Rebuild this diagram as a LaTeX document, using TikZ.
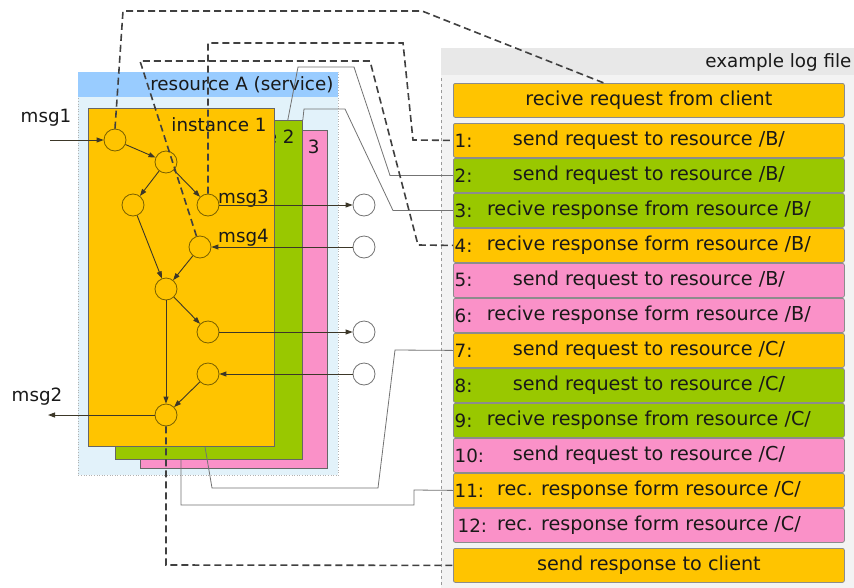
\documentclass[tikz,border=0pt]{standalone}
\usepackage{fontspec}
\setmainfont{DejaVu Sans}
\usetikzlibrary{arrows.meta,calc}
\definecolor{cOr}{RGB}{255,196,0}
\definecolor{cGr}{RGB}{153,200,0}
\definecolor{cPk}{RGB}{250,145,200}
\definecolor{cHead}{RGB}{153,204,255}
\definecolor{cBody}{RGB}{226,242,250}
\definecolor{cLog}{RGB}{243,243,243}
\definecolor{cLogHead}{RGB}{232,232,232}
\definecolor{cEdge}{RGB}{60,55,40}
\definecolor{cRing}{RGB}{120,95,0}
\definecolor{cTxt}{RGB}{25,25,25}
\tikzset{
  logrow/.style={draw=black!45, line width=0.8pt, rounded corners=2pt,
    minimum width=391pt, minimum height=34pt, anchor=north west, inner sep=0pt,
    font=\fontsize{19.2}{21}\selectfont},
  numlabel/.style={anchor=west, inner sep=0pt},
  instbox/.style={draw=black!60, line width=0.8pt, anchor=north west, inner sep=0pt},
  state/.style={circle, draw=cRing, fill=cOr, line width=0.8pt, minimum size=22pt, inner sep=0pt},
  outstate/.style={circle, draw=black!55, fill=white, line width=0.8pt, minimum size=22pt, inner sep=0pt},
  edge/.style={draw=cEdge, line width=0.9pt, -{Triangle[length=7pt,width=5pt]}},
  trace/.style={draw=black!55, line width=0.8pt},
  dashtrace/.style={draw=black!75, line width=1.6pt, dash pattern=on 7pt off 4pt},
}
\begin{document}
\begin{tikzpicture}[x=1pt, y=-1pt, font=\fontsize{18.3}{20}\selectfont, text=cTxt]
\clip (0,0) rectangle (854,587);
\fill[white] (0,0) rectangle (854,587);

% log file panel
\node[draw=black!40, dashed, line width=0.6pt, fill=cLog, minimum width=440pt, minimum height=560pt,
  anchor=north west, inner sep=0pt] (logp) at (441,48) {};
\fill[cLogHead] ([shift={(0.4pt,-0.4pt)}]logp.north west) rectangle (870,75);
\node[anchor=east] (logtitle) at (855,62) {example log file};

% resource A container
\node[draw=black!30, dotted, line width=0.6pt, fill=cBody, minimum width=260pt, minimum height=403pt,
  anchor=north west, inner sep=0pt] (resA) at (78,72) {};
\fill[cHead] (78.3,72.3) rectangle (337.7,97);
\node[anchor=east] (resAtitle) at (337,85) {resource A (service)};

% three instances, back to front
\node[instbox, fill=cPk, minimum width=187pt, minimum height=338pt] (inst3) at (140,130) {};
\node[anchor=east] (inst3t) at (323,147) {instance 3};
\node[instbox, fill=cGr, minimum width=187pt, minimum height=339pt] (inst2) at (115,120) {};
\node[anchor=east] (inst2t) at (298,137) {instance 2};
\node[instbox, fill=cOr, minimum width=186pt, minimum height=338pt] (inst1) at (88,108) {};
\node[anchor=east] (inst1t) at (270,125) {instance 1};

% log rows
\node[logrow, fill=cOr] (r0) at (453,83) {recive request from client};
\node[logrow, fill=cOr] (r1) at (453,123) {send request to resource /B/};
\node[logrow, fill=cGr] (r2) at (453,158) {send request to resource /B/};
\node[logrow, fill=cGr] (r3) at (453,193) {recive response from resource /B/};
\node[logrow, fill=cOr] (r4) at (453,228) {recive response form resource /B/};
\node[logrow, fill=cPk] (r5) at (453,263) {send request to resource /B/};
\node[logrow, fill=cPk] (r6) at (453,298) {recive response form resource /B/};
\node[logrow, fill=cOr] (r7) at (453,333) {send request to resource /C/};
\node[logrow, fill=cGr] (r8) at (453,368) {send request to resource /C/};
\node[logrow, fill=cGr] (r9) at (453,403) {recive response from resource /C/};
\node[logrow, fill=cPk] (r10) at (453,438) {send request to resource /C/};
\node[logrow, fill=cOr] (r11) at (453,473) {rec. response form resource /C/};
\node[logrow, fill=cPk] (r12) at (453,508) {rec. response form resource /C/};
\node[logrow, fill=cOr] (rEnd) at (453,548) {send response to client};

\node[numlabel] (n1) at ([xshift=1.5pt]r1.west) {1:};
\node[numlabel] (n2) at ([xshift=1.5pt]r2.west) {2:};
\node[numlabel] (n3) at ([xshift=1.5pt]r3.west) {3:};
\node[numlabel] (n4) at ([xshift=1.5pt]r4.west) {4:};
\node[numlabel] (n5) at ([xshift=1.5pt]r5.west) {5:};
\node[numlabel] (n6) at ([xshift=1.5pt]r6.west) {6:};
\node[numlabel] (n7) at ([xshift=1.5pt]r7.west) {7:};
\node[numlabel] (n8) at ([xshift=1.5pt]r8.west) {8:};
\node[numlabel] (n9) at ([xshift=1.5pt]r9.west) {9:};
\node[numlabel] (n10) at ([xshift=1.5pt]r10.west) {10:};
\node[numlabel] (n11) at ([xshift=1.5pt]r11.west) {11:};
\node[numlabel] (n12) at ([xshift=4.5pt]r12.west) {12:};

% states of instance 1
\node[state] (c1) at (115,140) {};
\node[state] (c2) at (166,162) {};
\node[state] (c3) at (133,205) {};
\node[state] (c4) at (208,205) {};
\node[state] (c5) at (200,247) {};
\node[state] (c6) at (166,289) {};
\node[state] (c7) at (208,332) {};
\node[state] (c8) at (208,374) {};
\node[state] (c9) at (166,415) {};

% partner endpoints
\node[outstate] (e1) at (364,205) {};
\node[outstate] (e2) at (364,247) {};
\node[outstate] (e3) at (364,332) {};
\node[outstate] (e4) at (364,374) {};

\coordinate (in1) at (50,140);
\coordinate (out2) at (48,415);

% message labels
\node (m1) at (46,118) {msg1};
\node (m2) at (37,397) {msg2};
\node[anchor=west, inner sep=0pt] (m3) at (218,199) {msg3};
\node[anchor=west, inner sep=0pt] (m4) at (218,238) {msg4};

% control flow
\draw[edge] (in1) -- (c1);
\draw[edge] (c1) -- (c2);
\draw[edge] (c2) -- (c3);
\draw[edge] (c2) -- (c4);
\draw[edge] (c3) -- (c6);
\draw[edge] (c5) -- (c6);
\draw[edge] (c6) -- (c7);
\draw[edge] (c6) -- (c9);
\draw[edge] (c8) -- (c9);
\draw[edge] (c9) -- (out2);
\draw[edge] (c4) -- (e1);
\draw[edge] (e2) -- (c5);
\draw[edge] (c7) -- (e3);
\draw[edge] (e4) -- (c8);

% instance-to-log traces
\draw[trace] ([xshift=-15pt]inst2.north east) -- (298,67) -- (354,67) -- (390,175.5) -- (r2.west);
\draw[trace] (inst2.north east) -- (304,109) -- (345,109) -- (393,210.5) -- (r3.west);
\draw[trace] (r7.west) -- (395,350) -- (378,488) -- (212,488) -- ([xshift=117pt]inst1.south west);
\draw[trace] (r11.west) -- (414,490) -- (414,505) -- (181,505) -- ([xshift=66pt]inst2.south west);

% state-to-log traces
\draw[dashtrace] (c1.north) -- (123,11) -- (422,11) -- ([xshift=-45pt]r0.north);
\draw[dashtrace] (c4.north) -- (208,43) -- (403,43) -- (413,140) -- (r1.west);
\draw[dashtrace] (c5) -- (140,61) -- (370,61) -- (418,245) -- (r4.west);
\draw[dashtrace] (c9.south) -- (166,565) -- (rEnd.west);
\end{tikzpicture}
\end{document}
